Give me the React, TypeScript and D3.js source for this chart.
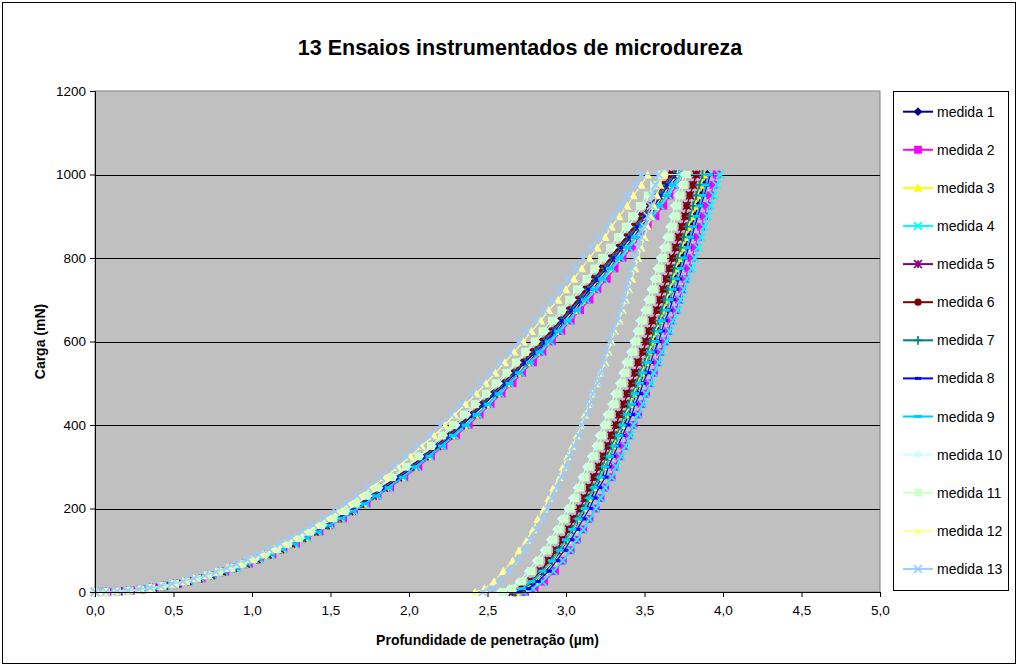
import React, { useEffect, useRef } from 'react';
import * as d3 from 'd3';

// applied load (mN) at each recorded point of the loading branch (finer at the start)
const loadingLoads = [0, 0.4, 1.6, 3.6, 6.4, 10, 14.4, 19.6, 25.6, 32.4, 40, 48.4, 57.6, 67.6, 78.4, 90,
  102.4, 115.6, 129.6, 144.4, 160, 176.4, 193.6, 211.6, 230.4, 250,
  275, 300, 325, 350, 375, 400, 425, 450, 475, 500, 525, 550, 575, 600, 625, 650, 675, 700,
  725, 750, 775, 800, 825, 850, 875, 900, 925, 950, 975, 1000];

// applied load (mN) at each recorded point of the unloading branch
const unloadingLoads = [0, 8, 25, 50, 75, 100, 125, 150, 175, 200, 225, 250, 275, 300, 325, 350, 375, 400, 425,
  450, 475, 500, 525, 550, 575, 600, 625, 650, 675, 700, 725, 750, 775, 800, 825, 850, 875, 900, 925, 950, 975, 1000];

const xTicks = [0, 0.5, 1, 1.5, 2, 2.5, 3, 3.5, 4, 4.5, 5];
const yTicks = [0, 200, 400, 600, 800, 1000, 1200];

const seriesNames = ['medida 1', 'medida 2', 'medida 3', 'medida 4', 'medida 5', 'medida 6', 'medida 7',
  'medida 8', 'medida 9', 'medida 10', 'medida 11', 'medida 12', 'medida 13'];

// depth (µm) on loading, one value per loadingLoads entry
const loading1 = [0, 0.07, 0.15, 0.22, 0.30, 0.37, 0.45, 0.52, 0.60, 0.67, 0.74, 0.82, 0.89, 0.97, 1.04, 1.12, 1.19, 1.26, 1.34, 1.41, 1.49, 1.56, 1.64, 1.71, 1.79, 1.86,
  1.95, 2.04, 2.12, 2.20, 2.28, 2.35, 2.42, 2.49, 2.56, 2.63, 2.69, 2.76, 2.82, 2.88, 2.94, 3.00, 3.06, 3.11, 3.17, 3.22, 3.27, 3.33, 3.38, 3.43, 3.48, 3.53, 3.58, 3.62, 3.67, 3.72];
const loading2 = [0, 0.08, 0.15, 0.23, 0.30, 0.38, 0.45, 0.53, 0.60, 0.68, 0.75, 0.83, 0.90, 0.98, 1.05, 1.13, 1.20, 1.28, 1.35, 1.43, 1.50, 1.58, 1.65, 1.73, 1.80, 1.88,
  1.97, 2.06, 2.14, 2.22, 2.30, 2.38, 2.45, 2.52, 2.59, 2.66, 2.72, 2.79, 2.85, 2.91, 2.97, 3.03, 3.09, 3.15, 3.20, 3.26, 3.31, 3.36, 3.42, 3.47, 3.52, 3.57, 3.62, 3.66, 3.71, 3.76];
const loading3 = [0, 0.07, 0.15, 0.22, 0.30, 0.37, 0.45, 0.52, 0.59, 0.67, 0.74, 0.82, 0.89, 0.96, 1.04, 1.11, 1.19, 1.26, 1.34, 1.41, 1.48, 1.56, 1.63, 1.71, 1.78, 1.85,
  1.95, 2.03, 2.12, 2.19, 2.27, 2.35, 2.42, 2.49, 2.56, 2.62, 2.69, 2.75, 2.81, 2.87, 2.93, 2.99, 3.05, 3.10, 3.16, 3.21, 3.27, 3.32, 3.37, 3.42, 3.47, 3.52, 3.57, 3.62, 3.66, 3.71];
const loading4 = [0, 0.07, 0.15, 0.22, 0.30, 0.37, 0.45, 0.52, 0.60, 0.67, 0.75, 0.82, 0.90, 0.97, 1.05, 1.12, 1.20, 1.27, 1.35, 1.42, 1.50, 1.57, 1.65, 1.72, 1.80, 1.87,
  1.96, 2.05, 2.13, 2.21, 2.29, 2.37, 2.44, 2.51, 2.58, 2.64, 2.71, 2.77, 2.84, 2.90, 2.96, 3.02, 3.07, 3.13, 3.19, 3.24, 3.29, 3.35, 3.40, 3.45, 3.50, 3.55, 3.60, 3.65, 3.69, 3.74];
const loading5 = [0, 0.07, 0.15, 0.22, 0.29, 0.37, 0.44, 0.52, 0.59, 0.66, 0.74, 0.81, 0.88, 0.96, 1.03, 1.10, 1.18, 1.25, 1.32, 1.40, 1.47, 1.55, 1.62, 1.69, 1.77, 1.84,
  1.93, 2.01, 2.10, 2.18, 2.25, 2.33, 2.40, 2.47, 2.54, 2.60, 2.67, 2.73, 2.79, 2.85, 2.91, 2.97, 3.02, 3.08, 3.13, 3.19, 3.24, 3.29, 3.34, 3.39, 3.44, 3.49, 3.54, 3.59, 3.63, 3.68];
const loading6 = [0, 0.07, 0.15, 0.22, 0.29, 0.37, 0.44, 0.51, 0.59, 0.66, 0.73, 0.81, 0.88, 0.95, 1.03, 1.10, 1.17, 1.25, 1.32, 1.39, 1.47, 1.54, 1.61, 1.69, 1.76, 1.83,
  1.92, 2.01, 2.09, 2.17, 2.25, 2.32, 2.39, 2.46, 2.53, 2.60, 2.66, 2.72, 2.78, 2.84, 2.90, 2.96, 3.02, 3.07, 3.12, 3.18, 3.23, 3.28, 3.33, 3.38, 3.43, 3.48, 3.53, 3.58, 3.62, 3.67];
const loading7 = [0, 0.07, 0.15, 0.22, 0.30, 0.37, 0.44, 0.52, 0.59, 0.66, 0.74, 0.81, 0.89, 0.96, 1.03, 1.11, 1.18, 1.25, 1.33, 1.40, 1.48, 1.55, 1.62, 1.70, 1.77, 1.84,
  1.93, 2.02, 2.10, 2.18, 2.26, 2.33, 2.41, 2.47, 2.54, 2.61, 2.67, 2.74, 2.80, 2.86, 2.92, 2.97, 3.03, 3.09, 3.14, 3.19, 3.25, 3.30, 3.35, 3.40, 3.45, 3.50, 3.55, 3.60, 3.64, 3.69];
const loading8 = [0, 0.07, 0.15, 0.22, 0.30, 0.37, 0.44, 0.52, 0.59, 0.67, 0.74, 0.81, 0.89, 0.96, 1.04, 1.11, 1.18, 1.26, 1.33, 1.41, 1.48, 1.55, 1.63, 1.70, 1.78, 1.85,
  1.94, 2.03, 2.11, 2.19, 2.27, 2.34, 2.41, 2.48, 2.55, 2.62, 2.68, 2.74, 2.81, 2.87, 2.93, 2.98, 3.04, 3.10, 3.15, 3.20, 3.26, 3.31, 3.36, 3.41, 3.46, 3.51, 3.56, 3.61, 3.65, 3.70];
const loading9 = [0, 0.07, 0.15, 0.22, 0.30, 0.37, 0.45, 0.52, 0.60, 0.67, 0.75, 0.82, 0.90, 0.97, 1.04, 1.12, 1.19, 1.27, 1.34, 1.42, 1.49, 1.57, 1.64, 1.72, 1.79, 1.87,
  1.96, 2.04, 2.13, 2.21, 2.28, 2.36, 2.43, 2.50, 2.57, 2.64, 2.70, 2.77, 2.83, 2.89, 2.95, 3.01, 3.07, 3.12, 3.18, 3.23, 3.28, 3.34, 3.39, 3.44, 3.49, 3.54, 3.59, 3.64, 3.68, 3.73];
const loading10 = [0, 0.07, 0.15, 0.22, 0.29, 0.36, 0.44, 0.51, 0.58, 0.65, 0.73, 0.80, 0.87, 0.94, 1.02, 1.09, 1.16, 1.23, 1.31, 1.38, 1.45, 1.52, 1.60, 1.67, 1.74, 1.81,
  1.90, 1.99, 2.07, 2.15, 2.22, 2.30, 2.37, 2.43, 2.50, 2.57, 2.63, 2.69, 2.75, 2.81, 2.87, 2.93, 2.98, 3.04, 3.09, 3.14, 3.19, 3.25, 3.30, 3.35, 3.40, 3.44, 3.49, 3.54, 3.58, 3.63];
const loading11 = [0, 0.07, 0.14, 0.22, 0.29, 0.36, 0.43, 0.51, 0.58, 0.65, 0.72, 0.79, 0.87, 0.94, 1.01, 1.08, 1.16, 1.23, 1.30, 1.37, 1.44, 1.52, 1.59, 1.66, 1.73, 1.80,
  1.89, 1.98, 2.06, 2.14, 2.21, 2.28, 2.35, 2.42, 2.49, 2.55, 2.62, 2.68, 2.74, 2.80, 2.85, 2.91, 2.97, 3.02, 3.07, 3.13, 3.18, 3.23, 3.28, 3.33, 3.38, 3.42, 3.47, 3.52, 3.56, 3.61];
const loading12 = [0, 0.07, 0.14, 0.21, 0.28, 0.35, 0.42, 0.49, 0.56, 0.63, 0.70, 0.77, 0.84, 0.92, 0.99, 1.06, 1.13, 1.20, 1.27, 1.34, 1.41, 1.48, 1.55, 1.62, 1.69, 1.76,
  1.85, 1.93, 2.01, 2.08, 2.16, 2.23, 2.29, 2.36, 2.43, 2.49, 2.55, 2.61, 2.67, 2.73, 2.78, 2.84, 2.89, 2.95, 3.00, 3.05, 3.10, 3.15, 3.20, 3.25, 3.29, 3.34, 3.39, 3.43, 3.48, 3.52];
const loading13 = [0, 0.07, 0.14, 0.21, 0.28, 0.35, 0.42, 0.49, 0.56, 0.63, 0.70, 0.77, 0.84, 0.90, 0.97, 1.04, 1.11, 1.18, 1.25, 1.32, 1.39, 1.46, 1.53, 1.60, 1.67, 1.74,
  1.82, 1.91, 1.98, 2.06, 2.13, 2.20, 2.27, 2.33, 2.40, 2.46, 2.52, 2.58, 2.64, 2.70, 2.75, 2.81, 2.86, 2.91, 2.96, 3.01, 3.06, 3.11, 3.16, 3.21, 3.26, 3.30, 3.35, 3.39, 3.44, 3.48];

// depth (µm) on unloading, one value per unloadingLoads entry (index 0 = fully unloaded)
const unloading1 = [2.68, 2.74, 2.80, 2.87, 2.92, 2.97, 3.01, 3.05, 3.09, 3.13, 3.16, 3.19, 3.23, 3.25, 3.28, 3.31, 3.34, 3.37, 3.40, 3.42, 3.45, 3.47, 3.50, 3.52, 3.54, 3.57, 3.59, 3.61, 3.64, 3.66, 3.68, 3.70, 3.72, 3.74, 3.76, 3.78, 3.80, 3.82, 3.84, 3.86, 3.88, 3.90];
const unloading2 = [2.74, 2.80, 2.86, 2.93, 2.98, 3.03, 3.07, 3.11, 3.15, 3.19, 3.22, 3.25, 3.29, 3.31, 3.34, 3.37, 3.40, 3.43, 3.46, 3.48, 3.51, 3.53, 3.56, 3.58, 3.60, 3.63, 3.65, 3.67, 3.70, 3.72, 3.74, 3.76, 3.78, 3.80, 3.82, 3.84, 3.86, 3.88, 3.90, 3.92, 3.94, 3.96];
const unloading3 = [2.68, 2.74, 2.80, 2.86, 2.92, 2.96, 3.01, 3.05, 3.08, 3.12, 3.15, 3.18, 3.22, 3.24, 3.27, 3.30, 3.33, 3.36, 3.38, 3.41, 3.43, 3.46, 3.48, 3.51, 3.53, 3.55, 3.57, 3.60, 3.62, 3.64, 3.66, 3.68, 3.70, 3.72, 3.74, 3.76, 3.78, 3.80, 3.82, 3.84, 3.86, 3.88];
const unloading4 = [2.73, 2.79, 2.85, 2.92, 2.98, 3.03, 3.07, 3.11, 3.15, 3.19, 3.22, 3.25, 3.29, 3.32, 3.35, 3.38, 3.41, 3.43, 3.46, 3.49, 3.51, 3.54, 3.56, 3.59, 3.61, 3.64, 3.66, 3.68, 3.71, 3.73, 3.75, 3.77, 3.80, 3.82, 3.84, 3.86, 3.88, 3.90, 3.92, 3.94, 3.96, 3.98];
const unloading5 = [2.66, 2.72, 2.78, 2.84, 2.89, 2.94, 2.98, 3.02, 3.05, 3.09, 3.12, 3.15, 3.18, 3.21, 3.24, 3.27, 3.29, 3.32, 3.34, 3.37, 3.39, 3.42, 3.44, 3.46, 3.49, 3.51, 3.53, 3.55, 3.58, 3.60, 3.62, 3.64, 3.66, 3.68, 3.70, 3.72, 3.74, 3.76, 3.77, 3.79, 3.81, 3.83];
const unloading6 = [2.66, 2.72, 2.78, 2.84, 2.89, 2.94, 2.98, 3.02, 3.05, 3.09, 3.12, 3.15, 3.18, 3.21, 3.24, 3.27, 3.29, 3.32, 3.34, 3.37, 3.39, 3.42, 3.44, 3.46, 3.49, 3.51, 3.53, 3.55, 3.58, 3.60, 3.62, 3.64, 3.66, 3.68, 3.70, 3.72, 3.74, 3.76, 3.77, 3.79, 3.81, 3.83];
const unloading7 = [2.67, 2.73, 2.79, 2.85, 2.91, 2.95, 3.00, 3.04, 3.07, 3.11, 3.14, 3.17, 3.21, 3.23, 3.26, 3.29, 3.32, 3.35, 3.37, 3.40, 3.42, 3.45, 3.47, 3.50, 3.52, 3.54, 3.56, 3.59, 3.61, 3.63, 3.65, 3.67, 3.69, 3.71, 3.73, 3.75, 3.77, 3.79, 3.81, 3.83, 3.85, 3.87];
const unloading8 = [2.70, 2.76, 2.82, 2.89, 2.94, 2.99, 3.03, 3.07, 3.11, 3.15, 3.18, 3.21, 3.25, 3.27, 3.30, 3.33, 3.36, 3.39, 3.42, 3.44, 3.47, 3.49, 3.52, 3.54, 3.56, 3.59, 3.61, 3.63, 3.66, 3.68, 3.70, 3.72, 3.74, 3.76, 3.78, 3.80, 3.82, 3.84, 3.86, 3.88, 3.90, 3.92];
const unloading9 = [2.66, 2.72, 2.78, 2.85, 2.91, 2.96, 3.00, 3.04, 3.08, 3.12, 3.15, 3.18, 3.22, 3.25, 3.28, 3.31, 3.34, 3.36, 3.39, 3.42, 3.44, 3.47, 3.49, 3.52, 3.54, 3.57, 3.59, 3.61, 3.64, 3.66, 3.68, 3.70, 3.73, 3.75, 3.77, 3.79, 3.81, 3.83, 3.85, 3.87, 3.89, 3.91];
const unloading10 = [2.58, 2.64, 2.70, 2.76, 2.81, 2.86, 2.90, 2.94, 2.97, 3.01, 3.04, 3.07, 3.10, 3.13, 3.16, 3.19, 3.21, 3.24, 3.26, 3.29, 3.31, 3.34, 3.36, 3.38, 3.41, 3.43, 3.45, 3.47, 3.50, 3.52, 3.54, 3.56, 3.58, 3.60, 3.62, 3.64, 3.66, 3.68, 3.69, 3.71, 3.73, 3.75];
const unloading11 = [2.60, 2.66, 2.72, 2.78, 2.83, 2.88, 2.92, 2.96, 2.99, 3.03, 3.06, 3.09, 3.12, 3.15, 3.18, 3.21, 3.23, 3.26, 3.28, 3.31, 3.33, 3.36, 3.38, 3.40, 3.43, 3.45, 3.47, 3.49, 3.52, 3.54, 3.56, 3.58, 3.60, 3.62, 3.64, 3.66, 3.68, 3.70, 3.71, 3.73, 3.75, 3.77];
const unloading12 = [2.42, 2.48, 2.54, 2.60, 2.66, 2.70, 2.75, 2.79, 2.82, 2.86, 2.89, 2.92, 2.96, 2.98, 3.01, 3.04, 3.07, 3.10, 3.12, 3.15, 3.17, 3.20, 3.22, 3.25, 3.27, 3.29, 3.31, 3.34, 3.36, 3.38, 3.40, 3.42, 3.44, 3.46, 3.48, 3.50, 3.52, 3.54, 3.56, 3.58, 3.60, 3.62];
const unloading13 = [2.47, 2.53, 2.58, 2.64, 2.69, 2.74, 2.77, 2.81, 2.85, 2.88, 2.91, 2.94, 2.97, 3.00, 3.02, 3.05, 3.08, 3.10, 3.13, 3.15, 3.17, 3.20, 3.22, 3.24, 3.26, 3.28, 3.30, 3.33, 3.35, 3.37, 3.39, 3.40, 3.42, 3.44, 3.46, 3.48, 3.50, 3.52, 3.54, 3.55, 3.57, 3.59];

const loadingDepths = [loading1, loading2, loading3, loading4, loading5, loading6, loading7,
  loading8, loading9, loading10, loading11, loading12, loading13];
const unloadingDepths = [unloading1, unloading2, unloading3, unloading4, unloading5, unloading6, unloading7,
  unloading8, unloading9, unloading10, unloading11, unloading12, unloading13];

// Excel default palette and marker order
const colors = ['#000080', '#FF00FF', '#FFFF00', '#00FFFF', '#800080', '#800000', '#008080',
  '#0000FF', '#00CCFF', '#CCFFFF', '#CCFFCC', '#FFFF99', '#99CCFF'];
const markers = ['diamond', 'square', 'triangle', 'x', 'star', 'circle', 'plus',
  'shortdash', 'longdash', 'diamond', 'square', 'triangle', 'x'];

const FONT = '"Liberation Sans", Arial, sans-serif';
const W = 1018;
const H = 666;

// draws one marker centred on (0,0) inside g
function drawMarker(g: d3.Selection<SVGGElement, unknown, null, undefined>, type: string, color: string) {
  const s = 3.9;
  if (type === 'diamond') {
    g.append('path').attr('d', `M0,${-s - 0.5}L${s + 0.5},0L0,${s + 0.5}L${-s - 0.5},0Z`).attr('fill', color);
  } else if (type === 'square') {
    g.append('rect').attr('x', -s).attr('y', -s).attr('width', 2 * s).attr('height', 2 * s).attr('fill', color);
  } else if (type === 'triangle') {
    g.append('path').attr('d', `M0,${-s - 0.4}L${s + 0.4},${s}L${-s - 0.4},${s}Z`).attr('fill', color);
  } else if (type === 'x') {
    g.append('path').attr('d', `M${-s},${-s}L${s},${s}M${-s},${s}L${s},${-s}`)
      .attr('stroke', color).attr('stroke-width', 1.7).attr('fill', 'none');
  } else if (type === 'star') {
    g.append('path').attr('d', `M${-s},${-s}L${s},${s}M${-s},${s}L${s},${-s}M0,${-s}L0,${s}`)
      .attr('stroke', color).attr('stroke-width', 1.7).attr('fill', 'none');
  } else if (type === 'circle') {
    g.append('circle').attr('r', s - 0.3).attr('fill', color);
  } else if (type === 'plus') {
    g.append('path').attr('d', `M${-s - 0.5},0L${s + 0.5},0M0,${-s - 0.5}L0,${s + 0.5}`)
      .attr('stroke', color).attr('stroke-width', 1.7).attr('fill', 'none');
  } else if (type === 'shortdash') {
    g.append('rect').attr('x', -3).attr('y', -1.5).attr('width', 6).attr('height', 3).attr('fill', color);
  } else if (type === 'longdash') {
    g.append('rect').attr('x', -4).attr('y', -1.5).attr('width', 8).attr('height', 3).attr('fill', color);
  }
}

const App: React.FC = () => {
  const svgRef = useRef<SVGSVGElement>(null);

  useEffect(() => {
    if (!svgRef.current) return;
    const svg = d3.select(svgRef.current);
    svg.selectAll('*').remove();

    const plot = { left: 95, right: 880, top: 91, bottom: 592 };

    const x = d3.scaleLinear().domain([0, 5]).range([plot.left, plot.right]);
    const y = d3.scaleLinear().domain([0, 1200]).range([plot.bottom, plot.top]);

    // chart area
    svg.append('rect')
      .attr('x', 0).attr('y', 0).attr('width', W).attr('height', H).attr('fill', '#ffffff');
    svg.append('rect')
      .attr('x', 2.5).attr('y', 2.5).attr('width', W - 5).attr('height', H - 5)
      .attr('fill', 'none').attr('stroke', '#000000').attr('stroke-width', 1);

    // plot area
    svg.append('rect')
      .attr('x', plot.left).attr('y', plot.top)
      .attr('width', plot.right - plot.left).attr('height', plot.bottom - plot.top)
      .attr('fill', '#C0C0C0').attr('stroke', '#808080').attr('stroke-width', 1);

    // gridlines
    svg.append('g')
      .selectAll('line')
      .data(yTicks.filter(d => d > 0 && d < 1200))
      .enter()
      .append('line')
      .attr('x1', plot.left).attr('x2', plot.right)
      .attr('y1', d => Math.round(y(d)) + 0.5).attr('y2', d => Math.round(y(d)) + 0.5)
      .attr('stroke', '#000000').attr('stroke-width', 1);

    // series: loading branch, hold at max load, then unloading branch
    const line = d3.line<[number, number]>()
      .x(d => x(d[0]))
      .y(d => y(d[1]));

    seriesNames.forEach((name, si) => {
      const up = loadingLoads.map((p, i) => [loadingDepths[si][i], p] as [number, number]);
      const down = unloadingLoads.map((p, i) => [unloadingDepths[si][i], p] as [number, number]).reverse();
      const pts = up.concat(down);

      svg.append('path')
        .datum(pts)
        .attr('fill', 'none')
        .attr('stroke', colors[si])
        .attr('stroke-width', 1.2)
        .attr('d', line);

      const mg = svg.append('g');
      pts.forEach(pt => {
        const g = mg.append('g').attr('transform', `translate(${x(pt[0])},${y(pt[1])})`);
        drawMarker(g, markers[si], colors[si]);
      });
    });

    // y axis
    const yAxis = svg.append('g')
      .attr('transform', `translate(${plot.left},0)`)
      .call(d3.axisLeft(y).tickValues(yTicks).tickSize(5).tickPadding(4).tickFormat(d => String(d)));
    yAxis.select('.domain').attr('stroke', '#000000');
    yAxis.selectAll('.tick line').attr('stroke', '#000000');
    yAxis.selectAll('text')
      .attr('fill', '#000000')
      .style('font-family', FONT)
      .style('font-size', '13.5px');

    // x axis
    const xAxis = svg.append('g')
      .attr('transform', `translate(0,${plot.bottom})`)
      .call(d3.axisBottom(x).tickValues(xTicks).tickSize(5).tickPadding(8)
        .tickFormat(d => (d as number).toFixed(1).replace('.', ',')));
    xAxis.select('.domain').attr('stroke', '#000000');
    xAxis.selectAll('.tick line').attr('stroke', '#000000');
    xAxis.selectAll('text')
      .attr('fill', '#000000')
      .style('font-family', FONT)
      .style('font-size', '13.5px');

    // titles
    svg.append('text')
      .attr('x', 520).attr('y', 55)
      .attr('text-anchor', 'middle')
      .style('font-family', FONT)
      .style('font-size', '21.5px')
      .style('font-weight', 'bold')
      .text('13 Ensaios instrumentados de microdureza');

    svg.append('text')
      .attr('x', (plot.left + plot.right) / 2).attr('y', 645)
      .attr('text-anchor', 'middle')
      .style('font-family', FONT)
      .style('font-size', '14px')
      .style('font-weight', 'bold')
      .text('Profundidade de penetração (µm)');

    svg.append('text')
      .attr('transform', `translate(45,${(plot.top + plot.bottom) / 2}) rotate(-90)`)
      .attr('text-anchor', 'middle')
      .style('font-family', FONT)
      .style('font-size', '14px')
      .style('font-weight', 'bold')
      .text('Carga (mN)');

    // legend
    const legend = svg.append('g');
    legend.append('rect')
      .attr('x', 893.5).attr('y', 91.5).attr('width', 115).attr('height', 499)
      .attr('fill', '#ffffff').attr('stroke', '#000000').attr('stroke-width', 1);

    seriesNames.forEach((name, i) => {
      const row = legend.append('g').attr('transform', `translate(0,${111.7 + i * 38.1})`);
      row.append('line')
        .attr('x1', 903).attr('x2', 933).attr('y1', 0).attr('y2', 0)
        .attr('stroke', colors[i]).attr('stroke-width', 2);
      const mg = row.append('g').attr('transform', 'translate(918,0)');
      drawMarker(mg, markers[i], colors[i]);
      row.append('text')
        .attr('x', 937).attr('y', 5)
        .style('font-family', FONT)
        .style('font-size', '14px')
        .text(name);
    });
  }, []);

  return (
    <div style={{ position: 'absolute', left: 0, top: 0, width: W, height: H, background: '#ffffff' }}>
      <svg ref={svgRef} width={W} height={H}></svg>
    </div>
  );
};

export default App;
